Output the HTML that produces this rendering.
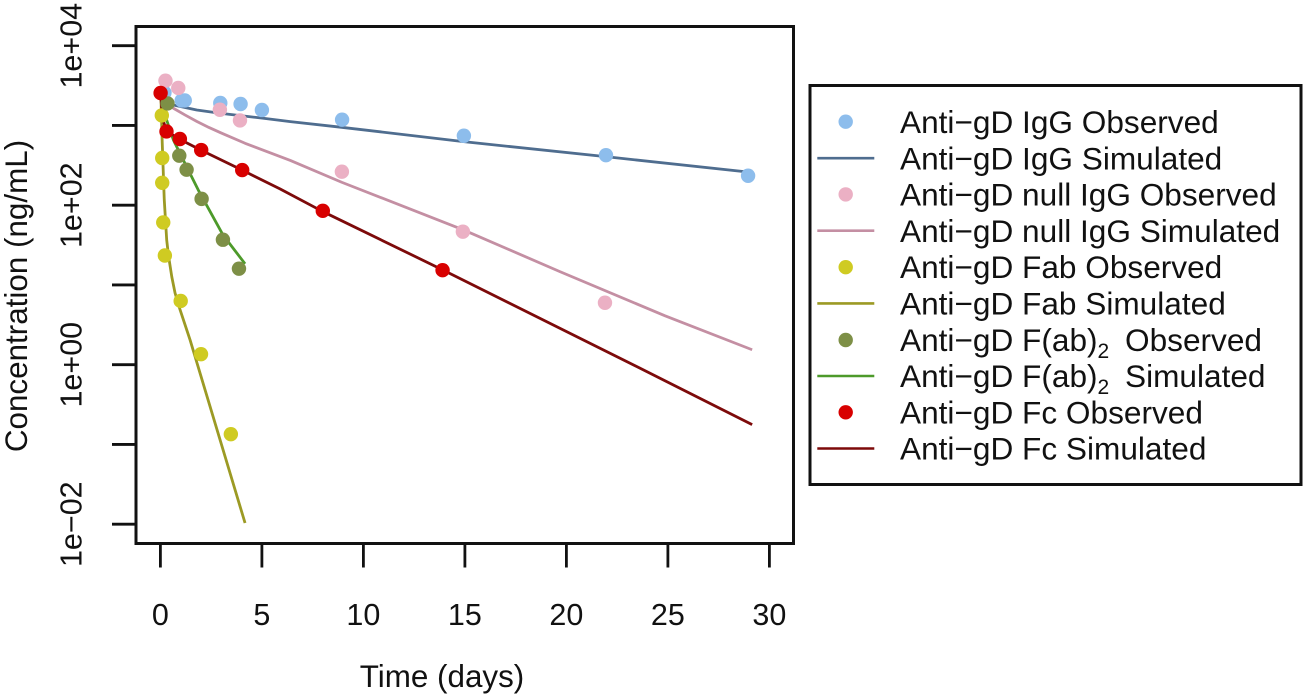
<!DOCTYPE html>
<html lang="en">
<head>
<meta charset="utf-8">
<title>Anti-gD concentration over time</title>
<style>
  html, body { margin: 0; padding: 0; background: #fff; }
  body { width: 1306px; height: 697px; overflow: hidden; }
  svg { display: block; filter: blur(0.35px); font-family: "Liberation Sans", Arial, sans-serif; fill: #111; }
  .tick-text { font-size: 30.5px; }
  .axis-title { font-size: 31.4px; }
  .legend-text { font-size: 31.6px; }
  .sub { font-size: 21px; }
</style>
</head>
<body>
<svg id="chart" xmlns="http://www.w3.org/2000/svg" width="1306" height="697" viewBox="0 0 1306 697">
  <g id="series-lines"></g>
  <g id="series-points"></g>
  <rect x="136" y="26.5" width="657.5" height="517" fill="none" stroke="#111" stroke-width="3"/>
  <g id="x-axis"></g>
  <g id="y-axis"></g>
  <text class="axis-title" x="442" y="687" text-anchor="middle">Time (days)</text>
  <text class="axis-title" transform="translate(27 296) rotate(-90)" text-anchor="middle">Concentration (ng/mL)</text>

  <g>
    <rect x="810" y="85.5" width="491" height="399" fill="#fff" stroke="#111" stroke-width="3"/>

    <circle cx="845.7" cy="121.7" r="7.2" fill="#8dbdec"/>
    <text class="legend-text" x="900" y="133">Anti−gD IgG Observed</text>

    <line x1="817.3" x2="874.3" y1="158.2" y2="158.2" stroke="#4f6d8f" stroke-width="2.6"/>
    <text class="legend-text" x="900" y="169.3">Anti−gD IgG Simulated</text>

    <circle cx="845.7" cy="194.4" r="7.2" fill="#ebb0c4"/>
    <text class="legend-text" x="900" y="205.6">Anti−gD null IgG Observed</text>

    <line x1="817.3" x2="874.3" y1="230.7" y2="230.7" stroke="#c48fa3" stroke-width="2.6"/>
    <text class="legend-text" x="900" y="241.9">Anti−gD null IgG Simulated</text>

    <circle cx="845.7" cy="267.2" r="7.2" fill="#cfcb22"/>
    <text class="legend-text" x="900" y="278.2">Anti−gD Fab Observed</text>

    <line x1="817.3" x2="874.3" y1="303.4" y2="303.4" stroke="#9c9a24" stroke-width="2.6"/>
    <text class="legend-text" x="900" y="314.5">Anti−gD Fab Simulated</text>

    <circle cx="845.7" cy="340" r="7.2" fill="#7d8f46"/>
    <text class="legend-text" x="900" y="350.8">Anti−gD F(ab)<tspan class="sub" dy="7">2</tspan><tspan dy="-7" x="1125">Observed</tspan></text>

    <line x1="817.3" x2="874.3" y1="376" y2="376" stroke="#4d9a2a" stroke-width="2.6"/>
    <text class="legend-text" x="900" y="387.1">Anti−gD F(ab)<tspan class="sub" dy="7">2</tspan><tspan dy="-7" x="1125">Simulated</tspan></text>

    <circle cx="845.7" cy="412.3" r="7.2" fill="#d80000"/>
    <text class="legend-text" x="900" y="423.4">Anti−gD Fc Observed</text>

    <line x1="817.3" x2="874.3" y1="448.5" y2="448.5" stroke="#7d0a0a" stroke-width="2.6"/>
    <text class="legend-text" x="900" y="459.7">Anti−gD Fc Simulated</text>
  </g>
</svg>

<script>
// ---- tick data ----
const xTicks = [0, 5, 10, 15, 20, 25, 30];
const yTicks = [10000, 1000, 100, 10, 1, 0.1, 0.01];
const yTickLabels = ["1e+04", "", "1e+02", "", "1e+00", "", "1e−02"];

// ---- observed series (days, ng/mL) ----
const iggObsT = [0.2, 1.05, 1.2, 2.95, 3.95, 5, 8.95, 14.95, 21.95, 28.95];
const iggObsC = [2576, 2060, 2060, 1912, 1858, 1563, 1180, 743, 424, 234];
const nullObsT = [0.25, 0.88, 2.93, 3.92, 8.94, 14.9, 21.9];
const nullObsC = [3640, 2951, 1574, 1156, 263, 46.6, 5.98];
const fabObsT = [0.07, 0.09, 0.09, 0.14, 0.22, 1.0, 2.0, 3.47];
const fabObsC = [1337, 391, 191, 60.8, 23.4, 6.3, 1.355, 0.1346];
const fab2ObsT = [0.35, 0.93, 1.29, 2.03, 3.08, 3.87];
const fab2ObsC = [1887, 418, 279, 120, 36.9, 16];
const fcObsT = [0.01, 0.3, 0.96, 2.01, 4.03, 8.0, 13.9];
const fcObsC = [2552, 841, 676, 492, 276, 85, 15.3];

// ---- simulated series (days, ng/mL) ----
const iggSimT = [0.1, 0.4, 0.64, 1.79, 2.94, 5.07, 6.4, 8.93, 14.93, 21.93, 29.1];
const iggSimC = [2090, 1914, 1807, 1563, 1422, 1230, 1116, 948, 627, 406, 258];
const nullSimT = [0.05, 0.3, 0.64, 1.21, 1.80, 2.39, 2.99, 4.17, 6.4, 8.93, 14.93, 19.68, 24.86, 29.15];
const nullSimC = [2410, 1968, 1644, 1355, 1122, 944, 805, 598, 364, 194, 49.0, 14.7, 4.10, 1.54];
const fabSimT = [0.02, 0.09, 0.19, 0.31, 0.40, 0.56, 0.72, 0.97, 1.46, 4.17];
const fabSimC = [2553, 604, 117, 36.7, 23.2, 12.7, 7.96, 4.87, 2.05, 0.01035];
const fab2SimT = [0.05, 0.14, 0.64, 1.29, 1.86, 3.08, 4.17];
const fab2SimC = [2090, 1563, 658, 305, 156, 42.5, 18.4];
const fcSimT = [0.01, 0.1, 0.3, 0.96, 2.01, 4.03, 5.89, 8.0, 13.94, 23.62, 29.15];
const fcSimC = [2535, 1241, 853, 668, 489, 275, 160, 83.2, 15.3, 0.906, 0.177];

// ---- axis functions ----
const NS = "http://www.w3.org/2000/svg";
function xScale(t) { return 160.4 + t * 20.3; }
function yScale(c) { return 45.7 + (4 - Math.log10(c)) * 79.75; }
function make(tag, attrs, parent) {
  const el = document.createElementNS(NS, tag);
  for (const k in attrs) el.setAttribute(k, attrs[k]);
  parent.appendChild(el);
  return el;
}

// ---- axes ----
const xAxis = document.getElementById("x-axis");
const yAxis = document.getElementById("y-axis");

xTicks.forEach(function (t) {
  const tick = make("line", { x1: xScale(t), x2: xScale(t), y1: 543.5, y2: 567.5, stroke: "#111", "stroke-width": 2.8 }, xAxis);
  
  
  const label = make("text", { x: xScale(t), y: 625, "text-anchor": "middle", class: "tick-text" }, xAxis);
  label.textContent = String(t);
  
  
});

yTicks.forEach(function (c, i) {
  const y = yScale(c);
  const tick = make("line", { x1: 112, x2: 136, y1: y, y2: y, stroke: "#111", "stroke-width": 2.8 }, yAxis);
  
  
  if (yTickLabels[i]) {
    const label = make("text", { transform: "translate(81.5 " + y + ") rotate(-90)", "text-anchor": "middle", class: "tick-text" }, yAxis);
    label.textContent = yTickLabels[i];
    
    
  }
});

// ---- marks ----
const lineLayer = document.getElementById("series-lines");
const pointLayer = document.getElementById("series-points");

function drawLine(name, ts, cs, color) {
  const d = ts.map(function (t, i) {
    return (i ? "L" : "M") + xScale(t).toFixed(2) + " " + yScale(cs[i]).toFixed(2);
  }).join(" ");
  const path = make("path", { d: d, fill: "none", stroke: color, "stroke-width": 2.8, "stroke-linejoin": "round" }, lineLayer);
  
  
}
function drawPoints(name, ts, cs, color) {
  ts.forEach(function (t, i) {
    const dot = make("circle", { cx: xScale(t), cy: yScale(cs[i]), r: 7.2, fill: color }, pointLayer);
    
    
  });
}

drawLine("igg-simulated-line", iggSimT, iggSimC, "#4f6d8f");
drawLine("null-igg-simulated-line", nullSimT, nullSimC, "#c48fa3");
drawLine("fab-simulated-line", fabSimT, fabSimC, "#9c9a24");
drawLine("fab2-simulated-line", fab2SimT, fab2SimC, "#4d9a2a");
drawLine("fc-simulated-line", fcSimT, fcSimC, "#7d0a0a");

drawPoints("igg-observed-point", iggObsT, iggObsC, "#8dbdec");
drawPoints("null-igg-observed-point", nullObsT, nullObsC, "#ebb0c4");
drawPoints("fab-observed-point", fabObsT, fabObsC, "#cfcb22");
drawPoints("fab2-observed-point", fab2ObsT, fab2ObsC, "#7d8f46");
drawPoints("fc-observed-point", fcObsT, fcObsC, "#d80000");
</script>
</body>
</html>
